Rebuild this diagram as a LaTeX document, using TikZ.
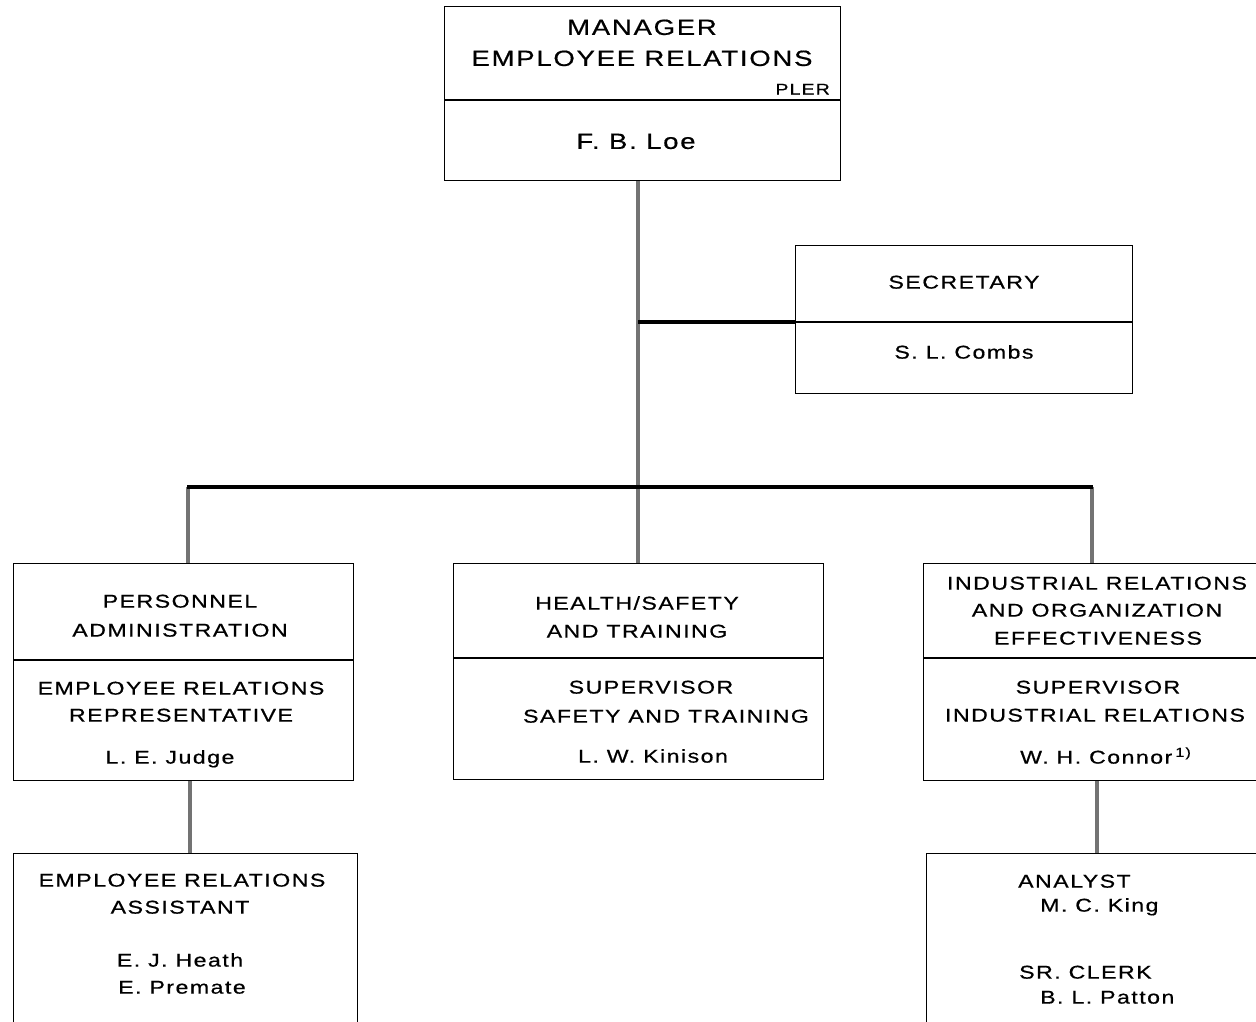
\documentclass[tikz,border=0pt]{standalone}
\usepackage{fontspec}
\newfontfamily\chartfont{Liberation Sans}[FakeStretch=1.25,LetterSpace=8,FakeBold=0.6]
\begin{document}
\begin{tikzpicture}[x=1pt,y=-1pt,
  box/.style={draw=black, line width=1.4pt, rectangle, inner sep=0pt, anchor=north west},
  divider/.style={draw=black, line width=1.4pt},
  txt/.style={inner sep=0pt, text height=13.2pt, text depth=0pt, font=\chartfont\fontsize{18.5}{20}\selectfont},
  bigtxt/.style={inner sep=0pt, text height=15.8pt, text depth=0pt, font=\chartfont\fontsize{22}{24}\selectfont},
  smalltxt/.style={inner sep=0pt, text height=11pt, text depth=0pt, font=\chartfont\fontsize{15.5}{17}\selectfont},
  conn/.style={draw=black!55, line width=3.5pt},
  bus/.style={draw=black, line width=4pt}]
\useasboundingbox (0,0) rectangle (1256,1021);
\clip (0,0) rectangle (1256,1021);
\fill[white] (0,0) rectangle (1256,1021);

% boxes
\node[box, minimum width=396pt, minimum height=174pt] (mgr) at (444,6) {};
\node[box, minimum width=337pt, minimum height=148pt] (sec) at (795,245) {};
\node[box, minimum width=340pt, minimum height=217pt] (pa) at (13,563) {};
\node[box, minimum width=370pt, minimum height=216pt] (hs) at (453,563) {};
\node[box, minimum width=340pt, minimum height=217pt] (ir) at (923,563) {};
\node[box, minimum width=344pt, minimum height=190pt] (era) at (13,853) {};
\node[box, minimum width=340pt, minimum height=190pt] (an) at (926,853) {};

% dividers
\draw[divider] (mgr.west |- 0,100) -- (mgr.east |- 0,100);
\draw[divider] (sec.west |- 0,322) -- (sec.east |- 0,322);
\draw[divider] (pa.west |- 0,660) -- (pa.east |- 0,660);
\draw[divider] (hs.west |- 0,658) -- (hs.east |- 0,658);
\draw[divider] (ir.west |- 0,658) -- (ir.east |- 0,658);

% connector coordinates
\coordinate (busC) at (638,487);
\coordinate (busL) at (188,487);
\coordinate (busR) at (1092,487);
\coordinate (secJ) at (638,322);
\coordinate (paJ) at (190,0);
\coordinate (irJ) at (1097,0);

\draw[conn] (mgr.south -| busC) -- (busC);
\draw[conn] (busL) -- (pa.north -| busL);
\draw[conn] (busC) -- (hs.north -| busC);
\draw[conn] (busR) -- (ir.north -| busR);
\draw[conn] (pa.south -| paJ) -- (era.north -| paJ);
\draw[conn] (ir.south -| irJ) -- (an.north -| irJ);
\draw[bus] ([xshift=-1pt]busL) -- ([xshift=1pt]busR);
\draw[bus, line width=3.5pt] (secJ) -- (sec.west |- secJ);

% manager texts
\node[bigtxt] (t1) at (642,27) {MANAGER};
\node[bigtxt] (t2) at (642,58) {EMPLOYEE RELATIONS};
\node[smalltxt, anchor=east] (t3) at (830,89) {PLER};
\node[bigtxt] (t4) at (636,141) {F. B. Loe};

% secretary
\node[txt] (s1) at (964,282) {SECRETARY};
\node[txt] (s2) at (964,352) {S. L. Combs};

% personnel administration
\node[txt] (p1) at (180,601) {PERSONNEL};
\node[txt] (p2) at (180,630) {ADMINISTRATION};
\node[txt] (p3) at (181,688) {EMPLOYEE RELATIONS};
\node[txt] (p4) at (181,715) {REPRESENTATIVE};
\node[txt] (p5) at (170,757) {L. E. Judge};

% health/safety
\node[txt] (h1) at (637,603) {HEALTH/SAFETY};
\node[txt] (h2) at (637,631) {AND TRAINING};
\node[txt] (h3) at (651,687) {SUPERVISOR};
\node[txt] (h4) at (666,716) {SAFETY AND TRAINING};
\node[txt] (h5) at (653,756) {L. W. Kinison};

% industrial relations
\node[txt] (i1) at (1097,583) {INDUSTRIAL RELATIONS};
\node[txt] (i2) at (1097,610) {AND ORGANIZATION};
\node[txt] (i3) at (1098,638) {EFFECTIVENESS};
\node[txt] (i4) at (1098,687) {SUPERVISOR};
\node[txt] (i5) at (1095,715) {INDUSTRIAL RELATIONS};
\node[txt, anchor=west] (i6) at (1020,757) {W. H. Connor\,\raisebox{0.7ex}{\fontsize{13}{14}\selectfont 1)}};

% employee relations assistant
\node[txt] (e1) at (182,880) {EMPLOYEE RELATIONS};
\node[txt] (e2) at (180,907) {ASSISTANT};
\node[txt] (e3) at (180,960) {E. J. Heath};
\node[txt] (e4) at (182,987) {E. Premate};

% analyst / clerk
\node[txt, anchor=west] (a1) at (1018,881) {ANALYST};
\node[txt, anchor=west] (a2) at (1040,905) {M. C. King};
\node[txt, anchor=west] (a3) at (1019,972) {SR. CLERK};
\node[txt, anchor=west] (a4) at (1040,997) {B. L. Patton};
\end{tikzpicture}
\end{document}
